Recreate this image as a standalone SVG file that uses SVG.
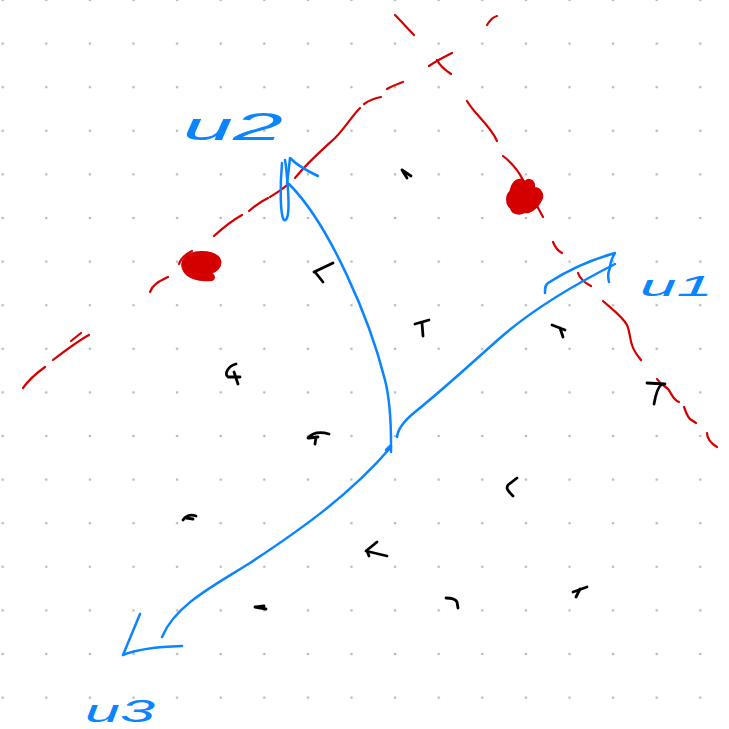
<svg xmlns="http://www.w3.org/2000/svg" width="729" height="729" viewBox="0 0 729 729">
<style>
.red{fill:none;stroke:#d40000;stroke-width:2.2;stroke-linecap:round;stroke-linejoin:round}
.blob{fill:#d40000;stroke:#d40000;stroke-width:2}
.blue{fill:none;stroke:#0a84ff;stroke-width:2.5;stroke-linecap:round;stroke-linejoin:round}
.blk{fill:none;stroke:#000;stroke-width:2.8;stroke-linecap:round;stroke-linejoin:round}
.lbl{fill:#0a84ff;font-family:"Liberation Sans",Arial,sans-serif;font-style:italic}
</style>
<defs>
<pattern id="grid" x="-19.1" y="-21.8" width="43.6" height="43.6" patternUnits="userSpaceOnUse">
<circle cx="21.8" cy="21.8" r="1.3" fill="#b8b8b8"/>
</pattern>
</defs>
<rect width="729" height="729" fill="#fff"/>
<rect width="729" height="729" fill="url(#grid)"/>

<g id="red-line-1">
<path class="red" d="M23,388 C30,378 38,372 45,367"/>
<path class="red" d="M53,360 C66,350 78,341 89,335"/>
<path class="red" d="M71,341 L81,333"/>
<path class="red" d="M150,292 C153,284 160,281 168,277"/>
<path class="red" d="M179,264 C181,258 186,254 192,251"/>
<path class="red" d="M214,236 C225,226 233,220 242,215"/>
<path class="red" d="M249,211 C256,205 262,201 268,198"/>
<path class="red" d="M270,197 C278,192 283,189 287,185"/>
<path class="red" d="M295,178 C308,162 322,150 335,138 C345,128 352,116 360,108"/>
<path class="red" d="M364,104 C370,100 375,98 381,97"/>
<path class="red" d="M387,89 C392,86 398,84 403,82"/>
<path class="red" d="M429,66 C436,61 444,57 452,53"/>
<path class="red" d="M487,25 C490,20 493,17 497,16"/>
</g>
<g id="red-line-2">
<path class="red" d="M395,15 C402,22 408,29 414,35"/>
<path class="red" d="M437,60 C440,66 445,70 451,74"/>
<path class="red" d="M467,101 C475,115 490,125 497,141"/>
<path class="red" d="M503,156 C512,163 518,170 523,180 L543,217"/>
<path class="red" d="M553,242 C555,247 558,251 562,253"/>
<path class="red" d="M578,273 C580,279 585,283 591,286"/>
<path class="red" d="M603,301 C613,310 622,316 627,325 C630,332 630,340 632,345 C634,352 638,356 641,360"/>
<path class="red" d="M657,379 C660,384 665,386 668,389 C672,394 673,400 679,402"/>
<path class="red" d="M684,407 C686,412 687,416 690,419 L696,423"/>
<path class="red" d="M707,433 C707,438 709,442 717,447"/>
</g>
<g id="red-dot-1">
<path class="blob" d="M185,258 C192,250 212,250 219,258 C223,265 217,272 210,273 C216,276 215,281 208,280 C200,281 188,278 184,271 C181,266 182,261 185,258 Z"/>
</g>
<g id="red-dot-2">
<path class="blob" d="M512,186 C515,179 522,178 525,182 C528,178 535,180 534,188 C541,188 545,196 540,202 C537,208 530,213 525,212 C520,215 512,214 511,208 C506,205 506,195 510,192 Z"/>
</g>

<g id="connectors">
<path class="blue" d="M289,184 C330,225 370,320 385,380 C390,400 391,420 391,443"/>
<path class="blue" d="M318,176 C305,170 295,163 290,158 C289,168 288,176 287,183"/>
<path class="blue" d="M282,163 C280,185 280,215 284,220 C289,222 289,205 288,190 C287,175 286,165 285,160"/>
<path class="blue" d="M397,437 C398,428 405,420 415,412 C445,388 475,360 500,338 C525,316 560,292 615,264"/>
<path class="blue" d="M545,293 C545,288 545,285 548,283 C565,272 590,260 615,253 C612,258 610,262 610,268 C608,272 608,278 609,282"/>
<path class="blue" d="M391,447 C350,495 300,530 250,563 C215,585 175,605 162,637"/>
<path class="blue" d="M386,450 L391,445 L391,452"/>
<path class="blue" d="M140,614 L123,655 C135,650 150,647 182,646"/>
</g>

<g id="label-u2"><text class="lbl" x="183" y="140" font-size="38" textLength="100" lengthAdjust="spacingAndGlyphs">u2</text></g>
<g id="label-u1"><text class="lbl" x="640" y="296" font-size="30" textLength="73" lengthAdjust="spacingAndGlyphs">u1</text></g>
<g id="label-u3"><text class="lbl" x="85" y="722" font-size="32" textLength="70" lengthAdjust="spacingAndGlyphs">u3</text></g>

<g id="marks">
<path class="blk" d="M402,170 L407,178 M402,170 L411,176"/>
<path class="blk" d="M314,272 L333,263 M315,272 L323,282"/>
<path class="blk" d="M415,324 L429,320 M422,323 L423,336"/>
<path class="blk" d="M552,325 L565,330 M560,328 L563,337"/>
<path class="blk" d="M236,364 C228,366 224,374 228,377 L240,377 M234,372 L238,384"/>
<path class="blk" d="M308,438 C314,431 322,432 329,434 M309,438 L318,437 M316,437 L315,444"/>
<path class="blk" d="M183,520 C185,516 190,514 196,516 M186,518 L193,519"/>
<path class="blk" d="M377,542 L366,551 L387,556 M367,551 L369,556"/>
<path class="blk" d="M255,607 L266,609 M256,607 L264,606"/>
<path class="blk" d="M446,598 C452,598 456,600 457,602 L458,608"/>
<path class="blk" d="M517,478 L508,485 C506,488 507,490 513,496"/>
<path class="blk" d="M573,592 L587,587 M580,589 L576,597"/>
<path class="blk" d="M647,383 L665,384 M662,384 C658,387 656,392 654,404"/>
</g>
</svg>
